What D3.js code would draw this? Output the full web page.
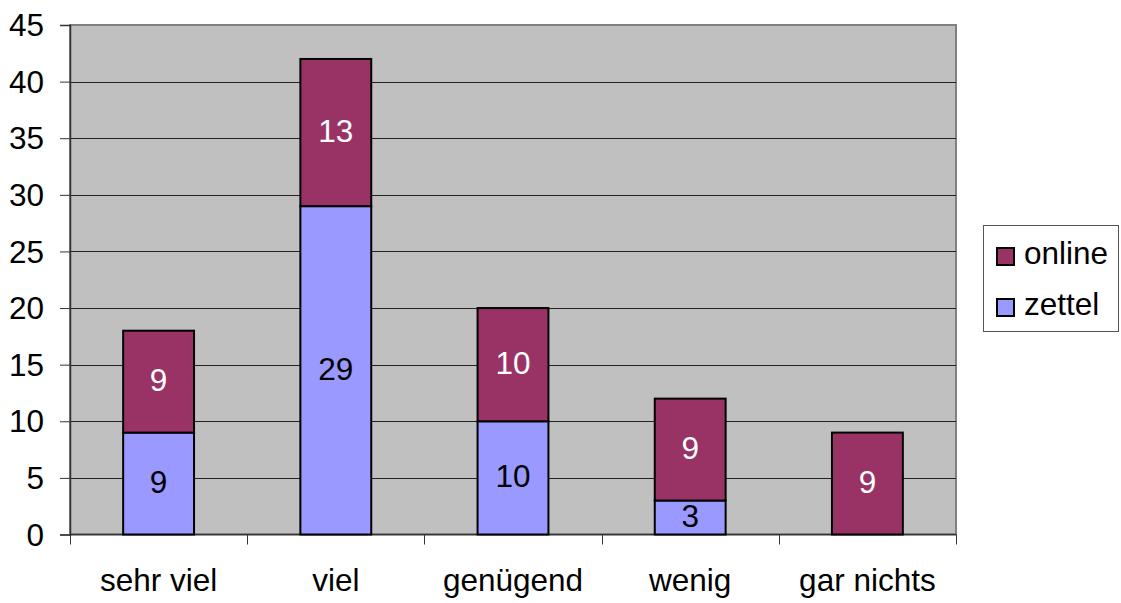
<!DOCTYPE html>
<html>
<head>
<meta charset="utf-8">
<script src="https://cdn.jsdelivr.net/npm/d3@7"></script>
<style>
  body { margin: 0; background: #fff; }
  text { font-family: Arial, "Liberation Sans", sans-serif; }
</style>
</head>
<body>
<svg id="chart" width="1121" height="603"></svg>
<script>
// chart data
const categories = ['sehr viel', 'viel', 'genügend', 'wenig', 'gar nichts'];
const zettel = [9, 29, 10, 3, 0];
const online = [9, 13, 10, 9, 9];
const yTicks = [0, 5, 10, 15, 20, 25, 30, 35, 40, 45];
const seriesNames = ['zettel', 'online'];
const colors = { zettel: '#9999FF', online: '#993366' };
const labelColors = { zettel: '#000', online: '#fff' };

let svg = d3.select('#chart');
let plotLeft = 70, plotRight = 956, plotTop = 25, plotBottom = 534.5;
let fs = 31.5;

let x = d3.scaleBand().domain(categories).range([plotLeft, plotRight]).paddingInner(0.6).paddingOuter(0.3);
let xTick = d3.scaleBand().domain(categories).range([plotLeft, plotRight]);
let y = d3.scaleLinear().domain([0, 45]).range([plotBottom, plotTop]);

// plot background
svg.append('rect')
  .attr('x', plotLeft).attr('y', plotTop)
  .attr('width', plotRight - plotLeft).attr('height', plotBottom - plotTop)
  .attr('fill', '#C0C0C0')
  .attr('stroke', '#808080').attr('stroke-width', 2);

// gridlines
svg.append('g').selectAll('line')
  .data(yTicks.filter(d => d > 0 && d < 45))
  .join('line')
  .attr('x1', plotLeft).attr('x2', plotRight)
  .attr('y1', d => Math.round(y(d)) + 0.5).attr('y2', d => Math.round(y(d)) + 0.5)
  .attr('stroke', '#222').attr('stroke-width', 1);

// y axis
let yAxis = svg.append('g')
  .attr('transform', `translate(${plotLeft},0)`)
  .call(d3.axisLeft(y).tickValues(yTicks).tickSize(10).tickPadding(16));
yAxis.select('.domain').attr('stroke', '#333').attr('stroke-width', 1.5);
yAxis.selectAll('.tick line').attr('stroke', '#333');
yAxis.selectAll('.tick text').attr('font-size', fs).attr('fill', '#000')
  .attr('dy', '0.34em')
  .attr('font-family', 'Arial, "Liberation Sans", sans-serif');

// x axis with ticks between categories
let xAxis = svg.append('g').attr('transform', `translate(0,${plotBottom})`);
xAxis.append('line')
  .attr('x1', plotLeft).attr('x2', plotRight)
  .attr('stroke', '#333').attr('stroke-width', 1.5);
let edges = categories.map(c => xTick(c)).concat([plotRight]);
xAxis.selectAll('.xt').data(edges).join('line')
  .attr('class', 'xt')
  .attr('x1', d => Math.round(d) + 0.5).attr('x2', d => Math.round(d) + 0.5)
  .attr('y1', 0).attr('y2', 10)
  .attr('stroke', '#333');
xAxis.selectAll('.xl').data(categories).join('text')
  .attr('class', 'xl')
  .attr('x', d => xTick(d) + xTick.bandwidth() / 2)
  .attr('y', 56)
  .attr('text-anchor', 'middle')
  .attr('font-size', fs)
  .text(d => d);

// stacked bars
let rows = categories.map((c, i) => ({ cat: c, zettel: zettel[i], online: online[i] }));
let stack = d3.stack().keys(seriesNames)(rows);

stack.forEach(layer => {
  let g = svg.append('g');
  let segs = layer.filter(d => d[1] - d[0] > 0);
  g.selectAll('rect').data(segs).join('rect')
    .attr('x', d => x(d.data.cat))
    .attr('width', x.bandwidth())
    .attr('y', d => y(d[1]))
    .attr('height', d => y(d[0]) - y(d[1]))
    .attr('fill', colors[layer.key])
    .attr('stroke', '#000').attr('stroke-width', 2);
  g.selectAll('text').data(segs).join('text')
    .attr('x', d => x(d.data.cat) + x.bandwidth() / 2)
    .attr('y', d => y((d[0] + d[1]) / 2))
    .attr('dy', '0.30em')
    .attr('text-anchor', 'middle')
    .attr('font-size', fs)
    .attr('fill', labelColors[layer.key])
    .text(d => d[1] - d[0]);
});

// legend
let legend = svg.append('g');
legend.append('rect')
  .attr('x', 983.5).attr('y', 225.5).attr('width', 135).attr('height', 106)
  .attr('fill', '#fff').attr('stroke', '#555').attr('stroke-width', 1);
let legendItems = ['online', 'zettel'];
legend.selectAll('.li').data(legendItems).join('g')
  .attr('class', 'li')
  .attr('transform', (d, i) => `translate(997,${248 + i * 51})`)
  .each(function(d) {
    let item = d3.select(this);
    item.append('rect').attr('width', 17).attr('height', 17)
      .attr('fill', colors[d]).attr('stroke', '#000').attr('stroke-width', 2);
    item.append('text').attr('x', 27).attr('y', 16)
      .attr('font-size', fs).text(d);
  });
</script>
</body>
</html>
